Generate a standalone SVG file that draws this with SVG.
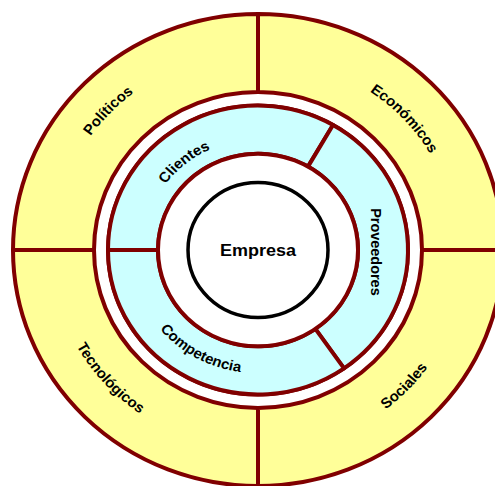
<svg xmlns="http://www.w3.org/2000/svg" xmlns:xlink="http://www.w3.org/1999/xlink" width="495" height="486" viewBox="0 0 495 486">
  <style>
    .ring { stroke: #800000; stroke-width: 4; vector-effect: non-scaling-stroke; stroke-linejoin: round; }
    .outer { fill: #FFFF99; }
    .inner { fill: #CCFFFF; }
    .gap { fill: #FFFFFF; }
    .lbl { font-family: "Liberation Sans", Arial, sans-serif; font-weight: bold; font-size: 15px; fill: #000; }
    .core { font-family: "Liberation Sans", Arial, sans-serif; font-weight: bold; font-size: 18px; fill: #000; }
  </style>
  <defs>
    <!-- baseline arcs for the curved labels, centred on the rings -->
    <path id="arcPoliticos" d="M -204.5,-14.3 A 205 205 0 0 1 -21.4,-203.9"/>
    <path id="arcEconomicos" d="M 24.3,-197.5 A 199 199 0 0 1 198.7,-10.4"/>
    <path id="arcTecnologicos" d="M -206.9,7.2 A 207 207 0 0 0 -28.8,205.0"/>
    <path id="arcSociales" d="M 21.8,207.9 A 209 209 0 0 0 208.5,14.6"/>
    <path id="arcClientes" d="M -112.9,-21.9 A 115 115 0 0 1 2.0,-115.0"/>
    <path id="arcCompetencia" d="M -128,2.2 A 128 128 0 0 0 65.9,109.7"/>
  </defs>

  <g transform="translate(258,250) scale(1,0.963)">
    <!-- outer environment quadrants -->
    <g id="economicos">
      <path class="ring outer" d="M 245,0 A 245 245 0 0 0 0,-245 L 0,-164 A 164 164 0 0 1 164,0 Z"/>
      <text class="lbl"><textPath xlink:href="#arcEconomicos" startOffset="50%" text-anchor="middle">Económicos</textPath></text>
    </g>
    <g id="politicos">
      <path class="ring outer" d="M 0,-245 A 245 245 0 0 0 -245,0 L -164,0 A 164 164 0 0 1 0,-164 Z"/>
      <text class="lbl"><textPath xlink:href="#arcPoliticos" startOffset="50%" text-anchor="middle">Políticos</textPath></text>
    </g>
    <g id="tecnologicos">
      <path class="ring outer" d="M -245,0 A 245 245 0 0 0 0,245 L 0,164 A 164 164 0 0 1 -164,0 Z"/>
      <text class="lbl"><textPath xlink:href="#arcTecnologicos" startOffset="50%" text-anchor="middle">Tecnológicos</textPath></text>
    </g>
    <g id="sociales">
      <path class="ring outer" d="M 0,245 A 245 245 0 0 0 245,0 L 164,0 A 164 164 0 0 1 0,164 Z"/>
      <text class="lbl"><textPath xlink:href="#arcSociales" startOffset="50%" text-anchor="middle">Sociales</textPath></text>
    </g>

    <!-- white separator ring -->
    <circle class="ring gap" r="150"/>

    <!-- competitive environment sectors -->
    <g id="clientes">
      <path class="ring inner" d="M 75,-129.9 A 150 150 0 0 0 -150,0 L -100,0 A 100 100 0 0 1 50,-86.6 Z"/>
      <text class="lbl"><textPath xlink:href="#arcClientes" startOffset="50%" text-anchor="middle">Clientes</textPath></text>
    </g>
    <g id="proveedores">
      <path class="ring inner" d="M 86.04,122.87 A 150 150 0 0 0 75,-129.9 L 50,-86.6 A 100 100 0 0 1 57.36,81.92 Z"/>
      <text class="lbl" transform="translate(118.7,2) rotate(90)" y="5.5" text-anchor="middle">Proveedores</text>
    </g>
    <g id="competencia">
      <path class="ring inner" d="M -150,0 A 150 150 0 0 0 86.04,122.87 L 57.36,81.92 A 100 100 0 0 1 -100,0 Z"/>
      <text class="lbl"><textPath xlink:href="#arcCompetencia" startOffset="50%" text-anchor="middle">Competencia</textPath></text>
    </g>

    <!-- inner white ring and the company core -->
    <circle class="ring gap" r="100"/>
    <g id="empresa">
      <circle r="70" fill="#FFFFFF" stroke="#000000" stroke-width="3.5" vector-effect="non-scaling-stroke"/>
      <text class="core" x="0" y="6.5" text-anchor="middle">Empresa</text>
    </g>
  </g>
</svg>
